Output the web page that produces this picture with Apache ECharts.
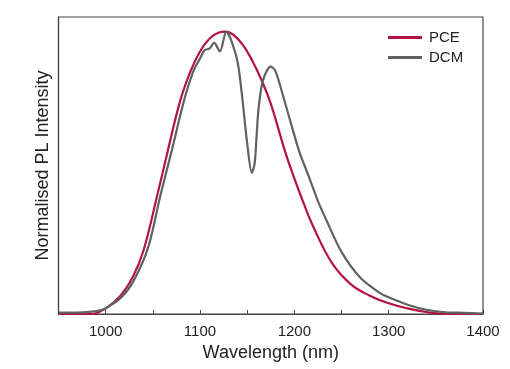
<!DOCTYPE html>
<html><head><meta charset="utf-8">
<script src="https://cdn.jsdelivr.net/npm/echarts@6/dist/echarts.min.js"></script>
<style>html,body{margin:0;padding:0;background:#fff}#c{width:510px;height:369px}</style>
</head><body><div id="c"></div>
<script>
const pceWl = [950,970,985,1000,1015,1029,1040,1055,1066,1079,1090,1100,1110,1120,1127,1135,1145,1155,1165,1175,1190,1200,1209,1220,1240,1260,1280,1300,1320,1340,1360,1380,1400];
const pceI  = [0,0,0,0.02,0.062,0.133,0.224,0.425,0.58,0.755,0.86,0.93,0.975,0.997,1.0,0.99,0.955,0.9,0.83,0.745,0.578,0.48,0.40,0.31,0.18,0.105,0.065,0.038,0.02,0.007,0,0,0];
const dcmWl = [950,970,990,1000,1017,1030,1045,1058,1070,1083,1093,1100,1105,1110,1115,1121,1128,1133,1140,1145,1150,1155,1158,1162,1167,1175,1180,1190,1205,1215,1225,1235,1250,1270,1290,1300,1320,1340,1360,1380,1400];
const dcmI  = [0.005,0.005,0.01,0.02,0.06,0.12,0.235,0.42,0.578,0.755,0.86,0.905,0.935,0.94,0.96,0.93,1.0,0.97,0.89,0.76,0.605,0.5,0.535,0.725,0.83,0.876,0.86,0.75,0.578,0.49,0.40,0.325,0.22,0.128,0.076,0.059,0.033,0.015,0.006,0.004,0.001];
const xTicks = [1000,1100,1200,1300,1400];

const chart = echarts.init(document.getElementById('c'));
const font = 'Liberation Sans, Arial, sans-serif';
chart.setOption({
  animation:false,
  grid:{left:58.5,right:27,top:17,bottom:55,show:true,borderColor:'#444',borderWidth:1.2},
  legend:{left:388,top:30,orient:'vertical',itemWidth:34,itemHeight:3,itemGap:5,padding:0,
    textStyle:{fontFamily:font,fontSize:15,color:'#222',padding:[0,0,0,2]},
    data:[{name:'PCE',icon:'rect'},{name:'DCM',icon:'rect'}]},
  xAxis:{type:'value',min:950,max:1400,interval:50,
    name:'Wavelength (nm)',nameLocation:'middle',nameGap:30,
    nameTextStyle:{fontFamily:font,fontSize:18,color:'#222'},
    axisLine:{lineStyle:{color:'#444',width:1.2}},
    axisTick:{inside:true,length:4,lineStyle:{color:'#444'}},
    axisLabel:{fontFamily:font,fontSize:15,color:'#222',margin:10,
      formatter:v=>xTicks.includes(v)?String(v):''},
    splitLine:{show:false}},
  yAxis:{type:'value',min:0,max:1.052,
    name:'Normalised PL Intensity',nameLocation:'middle',nameGap:6,
    nameTextStyle:{fontFamily:font,fontSize:18,color:'#222'},
    axisLine:{show:true,lineStyle:{color:'#444',width:1.2}},
    axisTick:{show:false},axisLabel:{show:false},splitLine:{show:false}},
  series:[
    {name:'PCE',type:'line',smooth:0.4,symbol:'none',
      data:pceWl.map((w,i)=>[w,pceI[i]]),
      lineStyle:{color:'#b3143f',width:2.2},itemStyle:{color:'#b3143f'}},
    {name:'DCM',type:'line',smooth:0.3,symbol:'none',
      data:dcmWl.map((w,i)=>[w,dcmI[i]]),
      lineStyle:{color:'#5e6265',width:2.2},itemStyle:{color:'#5e6265'}}
  ]
});
</script></body></html>
